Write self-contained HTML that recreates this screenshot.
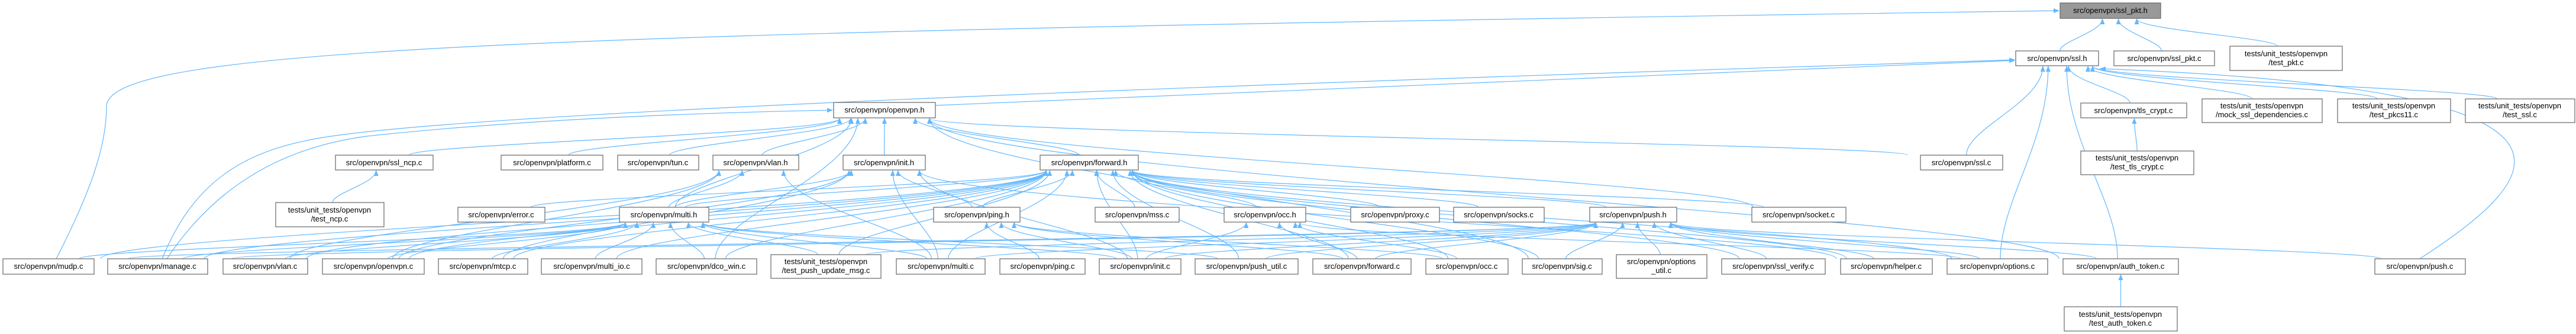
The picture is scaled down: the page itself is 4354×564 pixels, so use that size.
<!DOCTYPE html>
<html><head><meta charset="utf-8"><style>
html,body{margin:0;padding:0;background:#fff;}
svg{display:block;}
text{font-family:"Liberation Sans",sans-serif;font-size:13px;fill:#000;}
</style></head><body>
<svg id="g" width="4354" height="564" viewBox="0 0 4354 564" xmlns="http://www.w3.org/2000/svg">
<defs><marker id="a" markerWidth="10" markerHeight="8" refX="9" refY="4" orient="auto" markerUnits="userSpaceOnUse"><path d="M0,0 L10,4 L0,8 z" fill="#63b8ff"/></marker></defs>
<g id="edges" fill="none" stroke="#63b8ff" stroke-width="1.2"></g>
<g id="nodes" stroke="#666" stroke-width="1.2">
<rect x="3482" y="5" width="170" height="26" fill="#999"/>
<rect x="3407" y="86" width="140" height="25" fill="#fff"/>
<rect x="3573" y="86" width="170" height="25" fill="#fff"/>
<rect x="3769" y="78" width="190" height="41" fill="#fff"/>
<rect x="3517" y="174" width="179" height="25" fill="#fff"/>
<rect x="3722" y="167" width="203" height="40" fill="#fff"/>
<rect x="3951" y="167" width="191" height="40" fill="#fff"/>
<rect x="4167" y="167" width="185" height="40" fill="#fff"/>
<rect x="3246" y="262" width="139" height="25" fill="#fff"/>
<rect x="3517" y="255" width="191" height="40" fill="#fff"/>
<rect x="3291" y="437" width="170" height="26" fill="#fff"/>
<rect x="3487" y="437" width="195" height="26" fill="#fff"/>
<rect x="4014" y="437" width="153" height="26" fill="#fff"/>
<rect x="3489" y="518" width="191" height="41" fill="#fff"/>
<rect x="2283" y="350" width="150" height="25" fill="#fff"/>
<rect x="2457" y="350" width="153" height="25" fill="#fff"/>
<rect x="2687" y="350" width="147" height="25" fill="#fff"/>
<rect x="2961" y="350" width="159" height="25" fill="#fff"/>
<rect x="2219" y="437" width="166" height="26" fill="#fff"/>
<rect x="2410" y="437" width="139" height="26" fill="#fff"/>
<rect x="2573" y="437" width="135" height="26" fill="#fff"/>
<rect x="2732" y="430" width="153" height="40" fill="#fff"/>
<rect x="2910" y="437" width="175" height="26" fill="#fff"/>
<rect x="3111" y="437" width="155" height="26" fill="#fff"/>
<rect x="1409" y="173" width="172" height="26" fill="#fff"/>
<rect x="1044" y="262" width="137" height="25" fill="#fff"/>
<rect x="1205" y="262" width="145" height="25" fill="#fff"/>
<rect x="1425" y="262" width="139" height="25" fill="#fff"/>
<rect x="1758" y="262" width="166" height="25" fill="#fff"/>
<rect x="1047" y="350" width="151" height="25" fill="#fff"/>
<rect x="1578" y="350" width="146" height="25" fill="#fff"/>
<rect x="1851" y="350" width="142" height="25" fill="#fff"/>
<rect x="2069" y="350" width="138" height="25" fill="#fff"/>
<rect x="1109" y="437" width="170" height="26" fill="#fff"/>
<rect x="1303" y="430" width="186" height="40" fill="#fff"/>
<rect x="1515" y="437" width="150" height="26" fill="#fff"/>
<rect x="1690" y="437" width="144" height="26" fill="#fff"/>
<rect x="1858" y="437" width="138" height="26" fill="#fff"/>
<rect x="2020" y="437" width="174" height="26" fill="#fff"/>
<rect x="567" y="262" width="165" height="25" fill="#fff"/>
<rect x="847" y="262" width="172" height="25" fill="#fff"/>
<rect x="466" y="342" width="183" height="41" fill="#fff"/>
<rect x="774" y="350" width="147" height="25" fill="#fff"/>
<rect x="5" y="437" width="154" height="26" fill="#fff"/>
<rect x="182" y="437" width="169" height="26" fill="#fff"/>
<rect x="377" y="437" width="143" height="26" fill="#fff"/>
<rect x="545" y="437" width="172" height="26" fill="#fff"/>
<rect x="741" y="437" width="151" height="26" fill="#fff"/>
<rect x="915" y="437" width="170" height="26" fill="#fff"/>
</g>
<g text-anchor="middle">
<text x="3567" y="22">src/openvpn/ssl_pkt.h</text>
<text x="3477" y="103">src/openvpn/ssl.h</text>
<text x="3658" y="103">src/openvpn/ssl_pkt.c</text>
<text x="3864" y="95">tests/unit_tests/openvpn</text><text x="3864" y="110">/test_pkt.c</text>
<text x="3606" y="191">src/openvpn/tls_crypt.c</text>
<text x="3823" y="183">tests/unit_tests/openvpn</text><text x="3823" y="198">/mock_ssl_dependencies.c</text>
<text x="4046" y="183">tests/unit_tests/openvpn</text><text x="4046" y="198">/test_pkcs11.c</text>
<text x="4259" y="183">tests/unit_tests/openvpn</text><text x="4259" y="198">/test_ssl.c</text>
<text x="3315" y="279">src/openvpn/ssl.c</text>
<text x="3612" y="271">tests/unit_tests/openvpn</text><text x="3612" y="286">/test_tls_crypt.c</text>
<text x="3376" y="454">src/openvpn/options.c</text>
<text x="3584" y="454">src/openvpn/auth_token.c</text>
<text x="4090" y="454">src/openvpn/push.c</text>
<text x="3584" y="535">tests/unit_tests/openvpn</text><text x="3584" y="550">/test_auth_token.c</text>
<text x="2358" y="367">src/openvpn/proxy.c</text>
<text x="2533" y="367">src/openvpn/socks.c</text>
<text x="2760" y="367">src/openvpn/push.h</text>
<text x="3040" y="367">src/openvpn/socket.c</text>
<text x="2302" y="454">src/openvpn/forward.c</text>
<text x="2479" y="454">src/openvpn/occ.c</text>
<text x="2640" y="454">src/openvpn/sig.c</text>
<text x="2808" y="446">src/openvpn/options</text><text x="2808" y="461">_util.c</text>
<text x="2997" y="454">src/openvpn/ssl_verify.c</text>
<text x="3188" y="454">src/openvpn/helper.c</text>
<text x="1495" y="190">src/openvpn/openvpn.h</text>
<text x="1112" y="279">src/openvpn/tun.c</text>
<text x="1277" y="279">src/openvpn/vlan.h</text>
<text x="1494" y="279">src/openvpn/init.h</text>
<text x="1841" y="279">src/openvpn/forward.h</text>
<text x="1122" y="367">src/openvpn/multi.h</text>
<text x="1651" y="367">src/openvpn/ping.h</text>
<text x="1922" y="367">src/openvpn/mss.c</text>
<text x="2138" y="367">src/openvpn/occ.h</text>
<text x="1194" y="454">src/openvpn/dco_win.c</text>
<text x="1396" y="446">tests/unit_tests/openvpn</text><text x="1396" y="461">/test_push_update_msg.c</text>
<text x="1590" y="454">src/openvpn/multi.c</text>
<text x="1762" y="454">src/openvpn/ping.c</text>
<text x="1927" y="454">src/openvpn/init.c</text>
<text x="2107" y="454">src/openvpn/push_util.c</text>
<text x="649" y="279">src/openvpn/ssl_ncp.c</text>
<text x="933" y="279">src/openvpn/platform.c</text>
<text x="557" y="359">tests/unit_tests/openvpn</text><text x="557" y="374">/test_ncp.c</text>
<text x="847" y="367">src/openvpn/error.c</text>
<text x="82" y="454">src/openvpn/mudp.c</text>
<text x="266" y="454">src/openvpn/manage.c</text>
<text x="448" y="454">src/openvpn/vlan.c</text>
<text x="631" y="454">src/openvpn/openvpn.c</text>
<text x="816" y="454">src/openvpn/mtcp.c</text>
<text x="1000" y="454">src/openvpn/multi_io.c</text>
</g>
</svg>
<script>
var N={
sslpkth:[3482,5,170,26],sslh:[3407,86,140,25],sslpktc:[3573,86,170,25],testpkt:[3769,78,190,41],
tlscrypt:[3517,174,179,25],mock:[3722,167,203,40],pkcs:[3951,167,191,40],testssl:[4167,167,185,40],
sslc:[3246,262,139,25],testtls:[3517,255,191,40],options:[3291,437,170,26],auth:[3487,437,195,26],
pushc:[4014,437,153,26],testauth:[3489,518,191,41],proxy:[2283,350,150,25],socks:[2457,350,153,25],
pushh:[2687,350,147,25],socket:[2961,350,159,25],forwardc:[2219,437,166,26],occc:[2410,437,139,26],
sig:[2573,437,135,26],optutil:[2732,430,153,40],sslverify:[2910,437,175,26],helper:[3111,437,155,26],
openvpnh:[1409,173,172,26],tun:[1044,262,137,25],vlanh:[1205,262,145,25],inith:[1425,262,139,25],
forwardh:[1758,262,166,25],multih:[1047,350,151,25],pingh:[1578,350,146,25],mss:[1851,350,142,25],
occh:[2069,350,138,25],dco:[1109,437,170,26],testpush:[1303,430,186,40],multic:[1515,437,150,26],
pingc:[1690,437,144,26],initc:[1858,437,138,26],pushutil:[2020,437,174,26],sslncp:[567,262,165,25],
platform:[847,262,172,25],testncp:[466,342,183,41],error:[774,350,147,25],mudp:[5,437,154,26],
manage:[182,437,169,26],vlanc:[377,437,143,26],openvpnc:[545,437,172,26],mtcp:[741,437,151,26],multiio:[915,437,170,26]};
var E=[
["sslh","sslpkth"],["sslpktc","sslpkth"],["testpkt","sslpkth"],
["sslc","sslh"],["options","sslh"],["auth","sslh"],["tlscrypt","sslh"],["mock","sslh"],["pkcs","sslh"],["testssl","sslh"],
["testtls","tlscrypt"],["testauth","auth"],["testncp","sslncp"],
["sslncp","openvpnh"],["platform","openvpnh"],["tun","openvpnh"],["vlanh","openvpnh"],["inith","openvpnh"],["forwardh","openvpnh"],
["dco","openvpnh"],["multih","openvpnh"],["sslc","openvpnh"],["socket","openvpnh"],["auth","openvpnh"],["sig","openvpnh"],
["multih","vlanh"],["vlanc","vlanh"],["multic","vlanh"],["openvpnc","vlanh"],
["multih","inith"],["pingh","inith"],["multic","inith"],["initc","inith"],["openvpnc","inith"],["helper","inith"],["mtcp","inith"],
["pingh","forwardh"],["mss","forwardh"],["occh","forwardh"],["proxy","forwardh"],["socks","forwardh"],["pushh","forwardh"],
["socket","forwardh"],["forwardc","forwardh"],["occc","forwardh"],["sig","forwardh"],["initc","forwardh"],["multic","forwardh"],
["dco","forwardh"],["mudp","forwardh"],["mtcp","forwardh"],["multiio","forwardh"],["openvpnc","forwardh"],["vlanc","forwardh"],
["error","forwardh"],["helper","forwardh"],["sslverify","forwardh"],["options","forwardh"],["pushutil","forwardh"],["multih","forwardh"],
["manage","forwardh"],["testpush","forwardh"],
["mudp","multih"],["manage","multih"],["vlanc","multih"],["mtcp","multih"],["multiio","multih"],["dco","multih"],
["testpush","multih"],["multic","multih"],["initc","multih"],["pushutil","multih"],["openvpnc","multih"],
["pingc","pingh"],["initc","pingh"],["forwardc","pingh"],["occc","pingh"],
["initc","occh"],["occc","occh"],["forwardc","occh"],["options","occh"],
["forwardc","pushh"],["sig","pushh"],["optutil","pushh"],["sslverify","pushh"],["helper","pushh"],["options","pushh"],
["pushc","pushh"],["multic","pushh"],["initc","pushh"],["pushutil","pushh"],["testpush","pushh"],["auth","pushh"],["mudp","pushh"],["manage","pushh"]
];
var g=document.getElementById("edges"),ns="http://www.w3.org/2000/svg";
function add(d){var p=document.createElementNS(ns,"path");p.setAttribute("d",d);p.setAttribute("marker-end","url(#a)");g.appendChild(p);}
E.forEach(function(e){var s=N[e[0]],t=N[e[1]];
var sx=s[0]+s[2]/2,sy=s[1];var tc=t[0]+t[2]/2;
var tx=tc+(sx-tc)*0.15;tx=Math.max(t[0]+10,Math.min(t[0]+t[2]-10,tx));var ty=t[1]+t[3]+1;
var dy=sy-ty;sx=sx+(tc-sx)*0.05;
add("M"+sx+","+sy+" C"+sx+","+(sy-dy*0.3)+" "+tx+","+(ty+dy*0.4)+" "+tx+","+ty);});
add("M95,437 C150,330 180,250 180,180 C180,80 900,55 3480,18");
add("M274,437 C330,300 420,250 560,230 C900,180 2500,130 3405,101");
add("M282,437 C360,320 470,250 620,230 C900,200 1200,190 1407,186");
add("M1581,178 L3405,102");
add("M4090,437 C4300,300 4450,150 3550,116");
</script>
</body></html>
